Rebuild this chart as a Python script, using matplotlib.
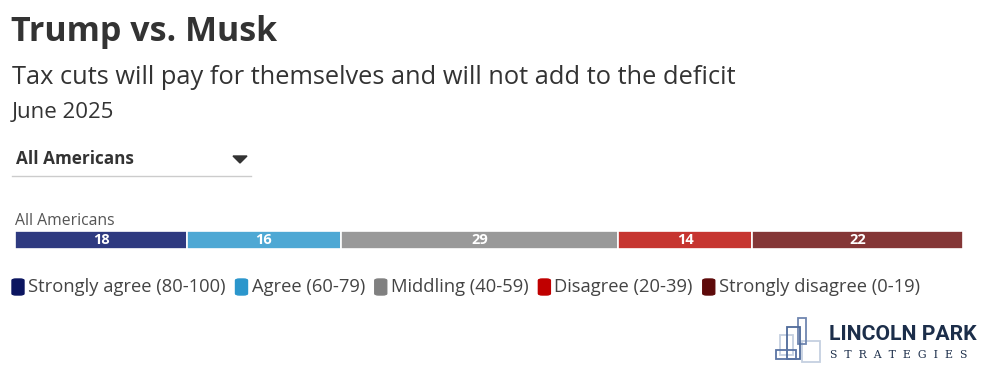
import matplotlib.pyplot as plt
from matplotlib.patches import Rectangle, FancyBboxPatch

categories = ["Strongly agree (80-100)", "Agree (60-79)", "Middling (40-59)",
              "Disagree (20-39)", "Strongly disagree (0-19)"]
values = [18, 16, 29, 14, 22]
bar_colors = ["#2e3a80", "#4ea8d4", "#999999", "#c63530", "#843636"]
legend_colors = ["#0b1560", "#2b96cc", "#808080", "#c00000", "#5e0a0a"]
group = "All Americans"

plt.rcParams['font.family'] = ['Open Sans', 'DejaVu Sans']

W, H = 981, 368
fig = plt.figure(figsize=(W / 100, H / 100), dpi=100)


def px(x, y):
    return x / W, 1 - y / H


def txt(x, y, s, **kw):
    return fig.text(*px(x, y), s, va='center', ha=kw.pop('ha', 'left'), **kw)


txt(11, 32, "Trump vs. Musk", fontsize=24.5, fontweight='bold', color='#333333')
txt(12, 77, "Tax cuts will pay for themselves and will not add to the deficit",
    fontsize=18.3, color='#333333')
txt(12, 113, "June 2025", fontsize=16, color='#333333')

# dropdown
txt(16, 159, group, fontsize=12.3, fontweight='bold', color='#333333')
fig.add_artist(plt.Polygon([px(233, 156), px(247, 156), px(240, 163)],
                           closed=True, color='#333333', transform=fig.transFigure))
fig.add_artist(plt.Line2D([12 / W, 251 / W], [1 - 176 / H] * 2,
                          color='#cccccc', lw=1, transform=fig.transFigure))

txt(15, 221, group, fontsize=11.3, color='#555555')

# stacked bar
ax = fig.add_axes([15 / W, 1 - 249 / H, 948 / W, 18 / H])
left = 0
for v, c in zip(values, bar_colors):
    ax.barh(0, v, left=left, height=1, color=c, edgecolor='white', linewidth=1.2)
    ax.text(left + v / 2, 0, str(v), ha='center', va='center', color='white',
            fontsize=10.5, fontweight='bold')
    left += v
ax.set_xlim(0, sum(values))
ax.set_ylim(-0.5, 0.5)
ax.axis('off')

# legend
lx = 12
for lab, c in zip(categories, legend_colors):
    fig.add_artist(FancyBboxPatch(px(lx, 295), 12 / W, 16 / H,
                                  boxstyle='round,pad=0,rounding_size=0.004',
                                  color=c, transform=fig.transFigure))
    t = fig.text(*px(lx + 16, 287), lab, va='center', fontsize=13.2, color='#444444')
    fig.canvas.draw()
    bb = t.get_window_extent()
    lx = bb.x1 + 10

# logo
navy = '#1c2e4a'
for (x, y, w, h, c) in [(780, 335, 13, 20, '#c5d0e0'), (802, 341, 18, 21, '#c5d0e0'),
                        (798, 318, 8, 26, '#6f86b0'), (787, 327, 13, 32, '#4e6a9a'),
                        (776, 350, 20, 9, '#5a74a4')]:
    fig.add_artist(Rectangle(px(x, y + h), w / W, h / H, fill=False,
                             edgecolor=c, lw=1.3, transform=fig.transFigure))
txt(829, 334, "LINCOLN PARK", fontsize=15.2, fontweight='bold', color=navy,
    family=['Roboto', 'DejaVu Sans'])
txt(830, 355, "S  T  R  A  T  E  G  I  E  S", fontsize=7.8, color=navy,
    family='DejaVu Serif')

fig.savefig('out.png', dpi=100)
